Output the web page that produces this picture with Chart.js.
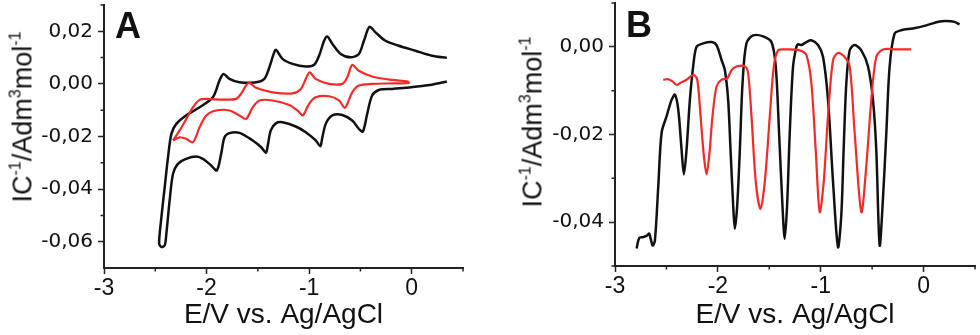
<!DOCTYPE html>
<html><head><meta charset="utf-8">
<script src="https://cdn.jsdelivr.net/npm/chart.js@4.4.1/dist/chart.umd.min.js"></script>
<style>
html,body{margin:0;padding:0;background:#fff;}
#wrap{position:relative;width:980px;height:335px;overflow:hidden;font-family:"Liberation Sans",Arial,sans-serif;color:#111;}
canvas{position:absolute;top:0;}
#cA{left:0;} #cB{left:490px;}
.panel{position:absolute;font-weight:bold;font-size:36px;line-height:1;}
.ytitle{position:absolute;font-size:27px;line-height:1;white-space:nowrap;transform:translate(-50%,-50%) rotate(-90deg);}
.ytitle span{font-size:16px;position:relative;top:-11px;}
</style></head>
<body><div id="wrap">
<canvas id="cA" width="490" height="335"></canvas>
<canvas id="cB" width="490" height="335"></canvas>
<div class="panel" style="left:115px;top:8px">A</div>
<div class="panel" style="left:626px;top:7px">B</div>
<div class="ytitle" style="left:23px;top:117px">IC<span>-1</span>/Adm<span>3</span>mol<span>-1</span></div>
<div class="ytitle" style="left:533px;top:122px">IC<span>-1</span>/Adm<span>3</span>mol<span>-1</span></div>
</div>
<script>
// ---- data: [E (V), I·C^-1 (dm3/mol)] ----
const aBlack = [[0.343,0.0009],[0.197,-0.0003],[-0.062,-0.0015],[-0.19,-0.0019],[-0.32,-0.0023],[-0.386,-0.0044],[-0.434,-0.0114],[-0.476,-0.0181],[-0.515,-0.0171],[-0.58,-0.0139],[-0.677,-0.0118],[-0.774,-0.012],[-0.838,-0.0152],[-0.877,-0.0215],[-0.89,-0.0237],[-0.936,-0.0215],[-1.033,-0.0184],[-1.13,-0.0162],[-1.26,-0.0146],[-1.325,-0.015],[-1.374,-0.0177],[-1.406,-0.024],[-1.421,-0.0262],[-1.47,-0.024],[-1.55,-0.0215],[-1.68,-0.0186],[-1.777,-0.0187],[-1.825,-0.0203],[-1.858,-0.0266],[-1.9,-0.0329],[-1.955,-0.031],[-2.036,-0.0285],[-2.1,-0.0276],[-2.2,-0.0285],[-2.28,-0.0304],[-2.327,-0.0342],[-2.36,-0.0443],[-2.392,-0.0569],[-2.408,-0.0614],[-2.44,-0.062],[-2.463,-0.0607],[-2.44,-0.0506],[-2.408,-0.0392],[-2.376,-0.0279],[-2.343,-0.019],[-2.295,-0.0152],[-2.2,-0.012],[-2.068,-0.0089],[-1.939,-0.0051],[-1.874,0.0013],[-1.835,0.0038],[-1.777,0.0019],[-1.68,0.0006],[-1.518,0.0006],[-1.437,0.0019],[-1.388,0.0063],[-1.345,0.0115],[-1.323,0.013],[-1.26,0.0095],[-1.162,0.0076],[-1.033,0.0066],[-0.951,0.0073],[-0.903,0.0107],[-0.854,0.0164],[-0.822,0.018],[-0.773,0.0152],[-0.692,0.0114],[-0.595,0.0101],[-0.515,0.0114],[-0.466,0.0164],[-0.411,0.0217],[-0.353,0.0196],[-0.256,0.0164],[-0.126,0.0145],[0.036,0.0126],[0.197,0.0107],[0.343,0.0099]];
const aRed = [[-2.327,-0.0215],[-2.262,-0.0177],[-2.197,-0.0133],[-2.133,-0.0089],[-2.068,-0.0061],[-2.003,-0.0057],[-1.842,-0.006],[-1.712,-0.0057],[-1.664,-0.0038],[-1.615,-0.0006],[-1.583,0.0004],[-1.518,-0.0015],[-1.356,-0.0032],[-1.162,-0.0036],[-1.08,-0.0019],[-1.033,0.0019],[-0.994,0.0044],[-0.936,0.0019],[-0.806,0],[-0.677,0],[-0.628,0.0025],[-0.58,0.0072],[-0.515,0.005],[-0.386,0.0028],[-0.191,0.0015],[-0.035,0.0009],[-0.03,0.0004],[-0.191,0.0002],[-0.386,0],[-0.515,-0.0006],[-0.58,-0.0032],[-0.628,-0.0076],[-0.654,-0.0091],[-0.709,-0.0063],[-0.806,-0.0047],[-0.936,-0.0051],[-1.0,-0.0076],[-1.049,-0.0114],[-1.065,-0.012],[-1.114,-0.0101],[-1.194,-0.008],[-1.356,-0.0063],[-1.485,-0.0063],[-1.55,-0.0089],[-1.615,-0.0133],[-1.68,-0.012],[-1.777,-0.0101],[-1.906,-0.0101],[-2.003,-0.012],[-2.068,-0.0165],[-2.133,-0.0222],[-2.197,-0.0209],[-2.262,-0.0203],[-2.327,-0.0215]];
const bBlack = [[-2.79,-0.046],[-2.764,-0.0436],[-2.725,-0.0434],[-2.686,-0.043],[-2.667,-0.0426],[-2.634,-0.0453],[-2.612,-0.0442],[-2.579,-0.0317],[-2.547,-0.0196],[-2.498,-0.0158],[-2.45,-0.0121],[-2.417,-0.0109],[-2.385,-0.0143],[-2.353,-0.0234],[-2.33,-0.0291],[-2.304,-0.0234],[-2.272,-0.0121],[-2.24,-0.0045],[-2.207,0],[-2.142,0.0008],[-2.061,0.0011],[-2.013,0.0004],[-1.964,-0.003],[-1.932,-0.0053],[-1.9,-0.0121],[-1.877,-0.0234],[-1.851,-0.0362],[-1.835,-0.0415],[-1.812,-0.0362],[-1.786,-0.0234],[-1.76,-0.0083],[-1.722,0.0008],[-1.657,0.0026],[-1.56,0.0024],[-1.479,0.0011],[-1.437,-0.0045],[-1.405,-0.0196],[-1.372,-0.0362],[-1.35,-0.0438],[-1.327,-0.0362],[-1.301,-0.0196],[-1.269,-0.0045],[-1.236,0],[-1.22,0.0006],[-1.188,0.0004],[-1.139,0.0011],[-1.091,0.0015],[-1.026,0.0004],[-0.977,-0.0023],[-0.929,-0.0121],[-0.88,-0.0309],[-0.832,-0.0457],[-0.8,-0.0385],[-0.777,-0.0234],[-0.751,-0.0083],[-0.718,-0.0008],[-0.67,0.0004],[-0.605,-0.0008],[-0.54,-0.0045],[-0.492,-0.0121],[-0.46,-0.0234],[-0.427,-0.0453],[-0.395,-0.0347],[-0.362,-0.0196],[-0.33,-0.0045],[-0.282,0.003],[-0.217,0.0038],[-0.104,0.0042],[0.026,0.0049],[0.155,0.0058],[0.22,0.0059],[0.301,0.0057],[0.35,0.0051]];
const bRed = [[-2.531,-0.0075],[-2.482,-0.0074],[-2.44,-0.0079],[-2.401,-0.0087],[-2.362,-0.0082],[-2.304,-0.0075],[-2.256,-0.0066],[-2.233,-0.0064],[-2.2,-0.0075],[-2.168,-0.0158],[-2.136,-0.0249],[-2.11,-0.0291],[-2.084,-0.0249],[-2.052,-0.0158],[-2.013,-0.0091],[-1.964,-0.0075],[-1.909,-0.0072],[-1.867,-0.0053],[-1.819,-0.0045],[-1.738,-0.0044],[-1.706,-0.006],[-1.673,-0.0158],[-1.631,-0.0309],[-1.586,-0.037],[-1.544,-0.0309],[-1.495,-0.0158],[-1.456,-0.0045],[-1.414,-0.0008],[-1.333,-0.0006],[-1.204,-0.0008],[-1.139,-0.0019],[-1.091,-0.0083],[-1.049,-0.0234],[-1.01,-0.0377],[-0.971,-0.0309],[-0.929,-0.0158],[-0.88,-0.003],[-0.832,-0.0014],[-0.767,-0.0023],[-0.718,-0.0045],[-0.67,-0.0196],[-0.605,-0.0377],[-0.557,-0.0272],[-0.508,-0.0121],[-0.46,-0.0023],[-0.395,-0.0006],[-0.265,-0.0006],[-0.12,-0.0006]];

const xTicks = [-3, -2, -1, 0];
const xMinor = [-2.5, -1.5, -0.5, 0.5];
const aYTicks = [-0.06, -0.04, -0.02, 0, 0.02];
const aYMinor = [-0.05, -0.03, -0.01, 0.01, 0.03];
const bYTicks = [-0.04, -0.02, 0];
const bYMinor = [-0.05, -0.03, -0.01, 0.01];
const xTitle = 'E/V vs. Ag/AgCl';

const AXIS = '#222', INK = '#111', RED = '#f42a2a';
const SANS = '"Liberation Sans", Arial, sans-serif';
const fmt = v => Math.abs(v) < 1e-9 ? '0,00' : Number(v).toFixed(2).replace('.', ',');

const minorTicks = {
  id: 'minorTicks',
  afterDraw(chart, args, opts) {
    const {ctx} = chart, xs = chart.scales.x, ys = chart.scales.y;
    ctx.save();
    ctx.strokeStyle = AXIS; ctx.lineWidth = 1.5;
    ctx.beginPath();
    opts.x.forEach(v => { const p = xs.getPixelForValue(v); ctx.moveTo(p, xs.top); ctx.lineTo(p, xs.top + 3.5); });
    opts.y.forEach(v => { const p = ys.getPixelForValue(v); ctx.moveTo(ys.right, p); ctx.lineTo(ys.right - 3.5, p); });
    ctx.stroke();
    ctx.restore();
  }
};

function pts(arr) { return arr.map(([x, y]) => ({x, y})); }

function build(id, p) {
  return new Chart(document.getElementById(id), {
    type: 'scatter',
    data: { datasets: [
      { data: pts(p.red), borderColor: RED, borderWidth: 2.2, showLine: true, pointRadius: 0, tension: 0.3, fill: false },
      { data: pts(p.black), borderColor: INK, borderWidth: 2.5, showLine: true, pointRadius: 0, tension: 0.3, fill: false }
    ]},
    options: {
      responsive: false, animation: false, events: [],
      layout: { padding: { left: 0, right: p.padRight, top: p.padTop, bottom: 0 } },
      plugins: { legend: { display: false }, tooltip: { enabled: false }, minorTicks: { x: xMinor, y: p.yMinor } },
      scales: {
        x: {
          type: 'linear', min: -3, max: 0.5,
          afterBuildTicks: s => { s.ticks = xTicks.map(v => ({value: v})); },
          afterFit: s => { s.height = p.xHeight; s.paddingLeft = 0; s.paddingRight = 0; },
          border: { display: true, color: AXIS, width: 2 },
          grid: { drawOnChartArea: false, drawTicks: true, tickLength: 6, tickColor: AXIS, tickWidth: 1.5 },
          ticks: { color: INK, font: { family: SANS, size: 23 }, padding: 1, maxRotation: 0, autoSkip: false, callback: v => String(v) },
          title: { display: true, text: xTitle, color: INK, font: { family: SANS, size: 28 }, padding: { top: 0, bottom: 3 } }
        },
        y: {
          type: 'linear', min: p.yMin, max: p.yMax,
          afterBuildTicks: s => { s.ticks = p.yTicks.map(v => ({value: v})); },
          afterFit: s => { s.width = p.yWidth; s.paddingTop = 0; s.paddingBottom = 0; },
          border: { display: true, color: AXIS, width: 2 },
          grid: { drawOnChartArea: false, drawTicks: true, tickLength: 6, tickColor: AXIS, tickWidth: 1.5 },
          ticks: { color: INK, font: { family: '"DejaVu Sans", sans-serif', size: 20 }, padding: 5, autoSkip: false, callback: fmt }
        }
      }
    },
    plugins: [minorTicks]
  });
}

build('cA', { black: aBlack, red: aRed, yMin: -0.07, yMax: 0.03, yTicks: aYTicks, yMinor: aYMinor, yWidth: 104, xHeight: 67, padRight: 27, padTop: 5 });
build('cB', { black: bBlack, red: bRed, yMin: -0.05, yMax: 0.01, yTicks: bYTicks, yMinor: bYMinor, yWidth: 125, xHeight: 69, padRight: 5, padTop: 3 });
</script>
</body></html>
